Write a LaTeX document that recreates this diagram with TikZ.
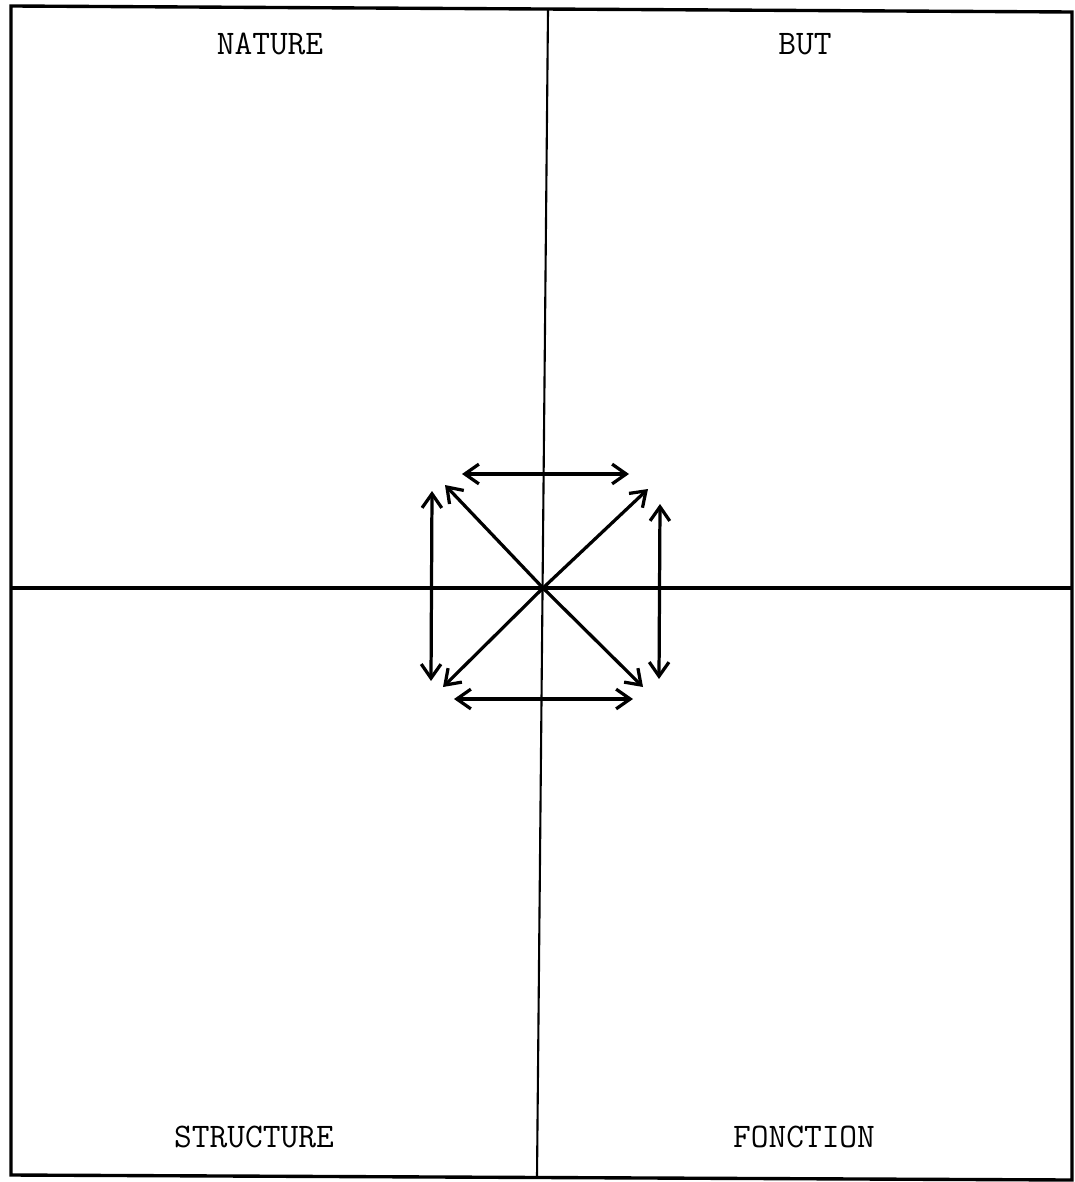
\documentclass[tikz,border=0pt]{standalone}
\usepackage{fontspec}
\usetikzlibrary{arrows.meta}
\tikzset{
  frame line/.style = {line width=2.4pt},
  axis line/.style  = {line width=1.5pt},
  link/.style       = {line width=2.3pt, {Straight Barb[length=10pt,width=14pt]}-{Straight Barb[length=10pt,width=14pt]}},
  ray/.style        = {line width=2.3pt, -{Straight Barb[length=10pt,width=14pt]}},
  quad label/.style = {font=\ttfamily\fontsize{24.5}{27}\selectfont, inner sep=0pt},
}

\begin{document}
\begin{tikzpicture}[x=0.025cm, y=-0.025cm]

  \useasboundingbox (0,0) rectangle (1074,1182);

  % ── outer frame and the two dividers ──────────────────────────────────────
  \draw[frame line] (11,6) -- (1072,12) -- (1072,1180) -- (11,1175) -- cycle;
  \draw[axis line] (548,10) -- (537,1177);
  \draw[frame line] (11,588) -- (1072,588);

  % ── quadrant labels ───────────────────────────────────────────────────────
  \node[quad label] (nature)    at (270,44)   {NATURE};
  \node[quad label] (but)       at (805,44)   {BUT};
  \node[quad label] (structure) at (254,1137) {STRUCTURE};
  \node[quad label] (fonction)  at (804,1137) {FONCTION};

  % ── arrow ends round the centre ───────────────────────────────────────────
  \coordinate (c)  at (543,588);
  \coordinate (nw) at (445,485);
  \coordinate (ne) at (648,489);
  \coordinate (sw) at (443,687);
  \coordinate (se) at (643,687);
  \coordinate (tl) at (462,474);
  \coordinate (tr) at (629,474);
  \coordinate (bl) at (454,699);
  \coordinate (br) at (633,699);
  \coordinate (lt) at (432,491);
  \coordinate (lb) at (431,681);
  \coordinate (rt) at (660,504);
  \coordinate (rb) at (659,679);

  % diagonals from the centre
  \foreach \e in {nw,ne,sw,se}{
    \draw[ray] (c) -- (\e);
  }

  % sides of the square
  \draw[link] (tl) -- (tr);
  \draw[link] (bl) -- (br);
  \draw[link] (lt) -- (lb);
  \draw[link] (rt) -- (rb);

\end{tikzpicture}
\end{document}
